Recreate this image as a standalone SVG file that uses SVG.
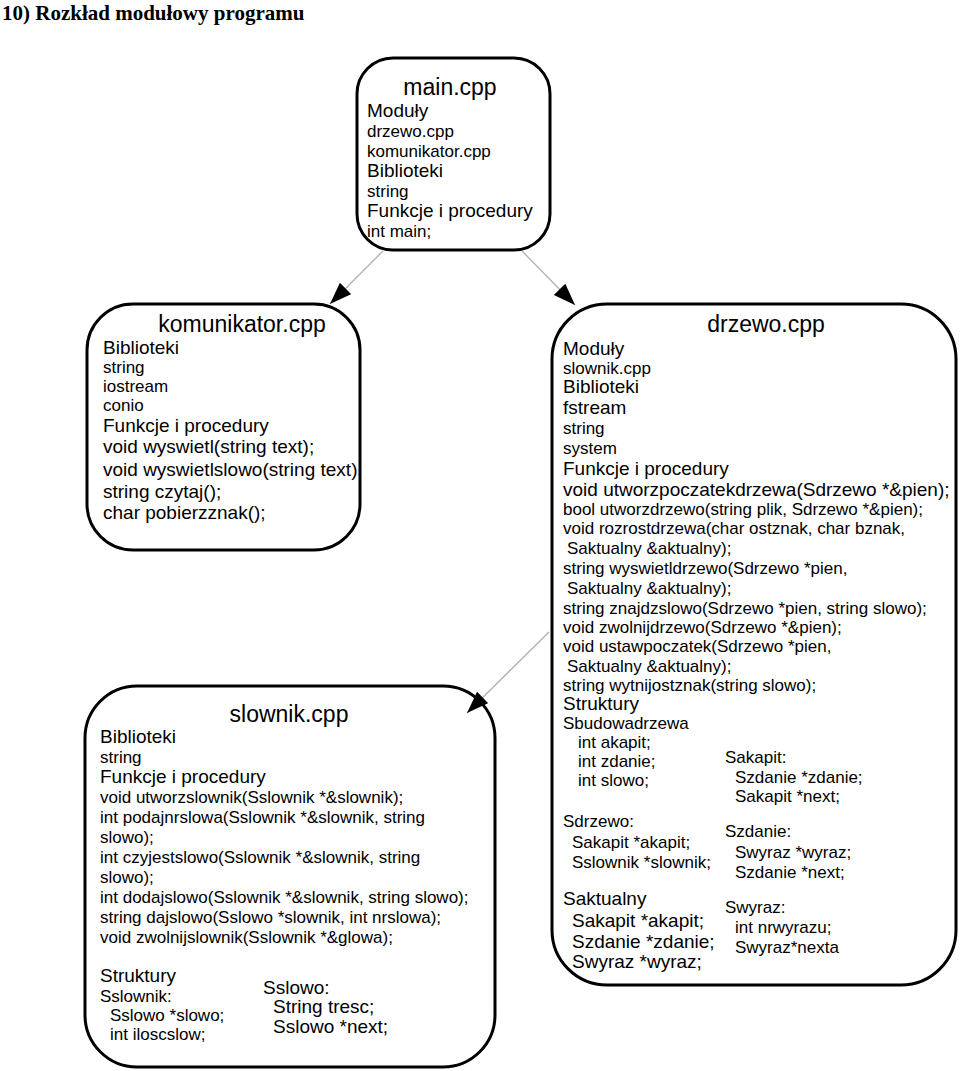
<svg xmlns="http://www.w3.org/2000/svg" width="960" height="1071" viewBox="0 0 960 1071">
<defs>
<style>
.box{fill:#fff;stroke:#000;stroke-width:3}
text{font-family:"Liberation Sans",Arial,sans-serif;fill:#000}
.t{font-size:23px}
.h{font-size:19px}
.i{font-size:17px}
.c{text-anchor:middle}
.edge{stroke:#b0b0b0;stroke-width:1.3;fill:none}
.title{font-family:"Liberation Serif","Times New Roman",serif;font-weight:bold;font-size:21px}
</style>
<marker id="arr" markerUnits="userSpaceOnUse" markerWidth="23" markerHeight="17" refX="22" refY="8" orient="auto">
<path d="M0,0 L22,8 L0,16 Z" fill="#000"/>
</marker>
</defs>
<rect width="960" height="1071" fill="#fff"/>
<text class="title" x="2" y="20">10) Rozkład modułowy programu</text>

<g id="main">
<rect class="box" x="357" y="58" width="193" height="192" rx="36" ry="36"/>
<text class="t c" x="450" y="95">main.cpp</text>
<text class="h" x="367" y="117">Moduły</text>
<text class="i" x="367" y="137">drzewo.cpp</text>
<text class="i" x="367" y="157">komunikator.cpp</text>
<text class="h" x="367" y="177">Biblioteki</text>
<text class="i" x="367" y="197">string</text>
<text class="h" x="367" y="217">Funkcje i procedury</text>
<text class="i" x="367" y="237">int main;</text>
</g>

<g id="komunikator">
<rect class="box" x="87" y="304" width="273" height="246" rx="46" ry="46"/>
<text class="t c" x="242" y="332">komunikator.cpp</text>
<text class="h" x="103" y="354">Biblioteki</text>
<text class="i" x="103" y="373">string</text>
<text class="i" x="103" y="392">iostream</text>
<text class="i" x="103" y="411">conio</text>
<text class="h" x="103" y="432">Funkcje i procedury</text>
<text class="h" x="103" y="453">void wyswietl(string text);</text>
<text class="h" x="103" y="476">void wyswietlslowo(string text)</text>
<text class="h" x="103" y="498">string czytaj();</text>
<text class="h" x="103" y="519">char pobierzznak();</text>
</g>

<g id="drzewo">
<rect class="box" x="552" y="304" width="404" height="681" rx="55" ry="55"/>
<text class="t c" x="766" y="332">drzewo.cpp</text>
<text class="h" x="563" y="355">Moduły</text>
<text class="i" x="563" y="374">slownik.cpp</text>
<text class="h" x="563" y="393">Biblioteki</text>
<text class="h" x="563" y="414">fstream</text>
<text class="i" x="563" y="434">string</text>
<text class="i" x="563" y="454">system</text>
<text class="h" x="563" y="475">Funkcje i procedury</text>
<text class="h" x="563" y="496">void utworzpoczatekdrzewa(Sdrzewo *&amp;pien);</text>
<text class="i" x="563" y="515">bool utworzdrzewo(string plik, Sdrzewo *&amp;pien);</text>
<text class="i" x="563" y="534">void rozrostdrzewa(char ostznak, char bznak,</text>
<text class="i" x="567" y="554">Saktualny &amp;aktualny);</text>
<text class="i" x="563" y="574">string wyswietldrzewo(Sdrzewo *pien,</text>
<text class="i" x="567" y="594">Saktualny &amp;aktualny);</text>
<text class="i" x="563" y="614">string znajdzslowo(Sdrzewo *pien, string slowo);</text>
<text class="i" x="563" y="633">void zwolnijdrzewo(Sdrzewo *&amp;pien);</text>
<text class="i" x="563" y="652">void ustawpoczatek(Sdrzewo *pien,</text>
<text class="i" x="567" y="672">Saktualny &amp;aktualny);</text>
<text class="i" x="563" y="691">string wytnijostznak(string slowo);</text>
<text class="h" x="563" y="710">Struktury</text>
<text class="i" x="563" y="729">Sbudowadrzewa</text>
<text class="i" x="578" y="748">int akapit;</text>
<text class="i" x="578" y="767">int zdanie;</text>
<text class="i" x="578" y="786">int slowo;</text>
<text class="i" x="725" y="763">Sakapit:</text>
<text class="i" x="735" y="783">Szdanie *zdanie;</text>
<text class="i" x="735" y="802">Sakapit *next;</text>
<text class="i" x="563" y="827">Sdrzewo:</text>
<text class="i" x="572" y="848">Sakapit *akapit;</text>
<text class="i" x="572" y="868">Sslownik *slownik;</text>
<text class="i" x="725" y="837">Szdanie:</text>
<text class="i" x="735" y="858">Swyraz *wyraz;</text>
<text class="i" x="735" y="878">Szdanie *next;</text>
<text class="h" x="563" y="905">Saktualny</text>
<text class="h" x="572" y="927">Sakapit *akapit;</text>
<text class="h" x="572" y="948">Szdanie *zdanie;</text>
<text class="h" x="572" y="968">Swyraz *wyraz;</text>
<text class="i" x="725" y="913">Swyraz:</text>
<text class="i" x="735" y="933">int nrwyrazu;</text>
<text class="i" x="735" y="953">Swyraz*nexta</text>
</g>

<g id="slownik">
<rect class="box" x="85" y="686" width="410" height="381" rx="52" ry="52"/>
<text class="t c" x="289" y="722">slownik.cpp</text>
<text class="h" x="100" y="743">Biblioteki</text>
<text class="i" x="100" y="763">string</text>
<text class="h" x="100" y="783">Funkcje i procedury</text>
<text class="i" x="100" y="803">void utworzslownik(Sslownik *&amp;slownik);</text>
<text class="i" x="100" y="823">int podajnrslowa(Sslownik *&amp;slownik, string</text>
<text class="i" x="100" y="843">slowo);</text>
<text class="i" x="100" y="863">int czyjestslowo(Sslownik *&amp;slownik, string</text>
<text class="i" x="100" y="883">slowo);</text>
<text class="i" x="100" y="903">int dodajslowo(Sslownik *&amp;slownik, string slowo);</text>
<text class="i" x="100" y="923">string dajslowo(Sslowo *slownik, int nrslowa);</text>
<text class="i" x="100" y="943">void zwolnijslownik(Sslownik *&amp;glowa);</text>
<text class="h" x="100" y="982">Struktury</text>
<text class="i" x="100" y="1002">Sslownik:</text>
<text class="i" x="110" y="1021">Sslowo *slowo;</text>
<text class="i" x="110" y="1040">int iloscslow;</text>
<text class="h" x="263" y="994">Sslowo:</text>
<text class="h" x="273" y="1013">String tresc;</text>
<text class="h" x="273" y="1033">Sslowo *next;</text>
</g>

<g id="connectors">
<line class="edge" x1="383" y1="251" x2="330" y2="304" marker-end="url(#arr)"/>
<line class="edge" x1="522" y1="251" x2="575" y2="305" marker-end="url(#arr)"/>
<line class="edge" x1="549" y1="632" x2="467" y2="713" marker-end="url(#arr)"/>
</g>
</svg>
